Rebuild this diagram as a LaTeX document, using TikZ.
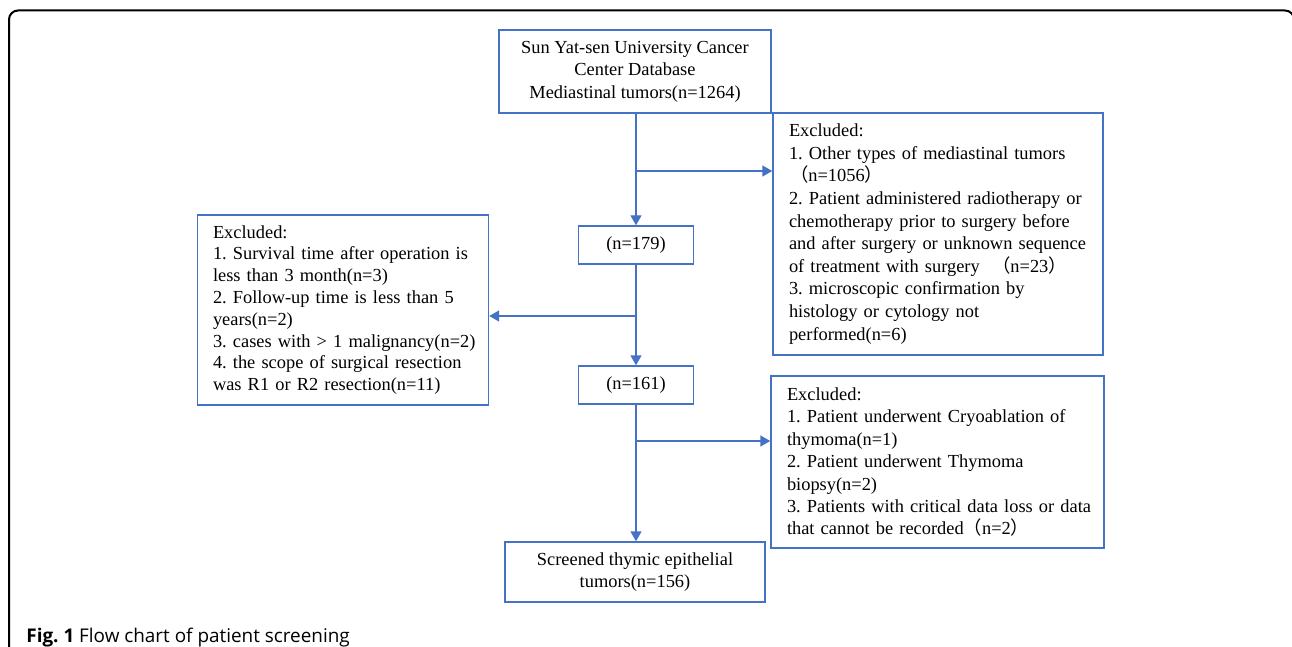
\documentclass[tikz,border=0pt]{standalone}
\usepackage{fontspec}
\setmainfont{Liberation Serif}
\newfontfamily\capfont{Open Sans}
\newfontfamily\cjk{Noto Sans CJK SC}
\usetikzlibrary{arrows.meta}
\definecolor{boxblue}{HTML}{4472C4}
\newcommand{\fwl}{{\cjk （}}
\newcommand{\fwr}{{\cjk ）}}
\newcommand{\boxline}[1]{\mbox{#1}}
\frenchspacing
\begin{document}
\begin{tikzpicture}[x=0.5pt,y=-0.5pt,
  box/.style={draw=boxblue,line width=0.7pt,inner ysep=0pt,font=\fontsize{9.2pt}{11.2pt}\selectfont},
  lbox/.style={box,align=left,inner xsep=7.75pt},
  cbox/.style={box,align=center,inner xsep=2pt},
  conn/.style={draw=boxblue,line width=0.7pt},
  arr/.style={conn,-{Triangle[length=5pt,width=5.5pt]}}]
\useasboundingbox (0,0) rectangle (1292,647);
\begin{scope}
\clip (0,0) rectangle (1292,647);
\draw[line width=1pt,rounded corners=4.5pt] (9,700) -- (9,10.5) -- (1294,10.5) -- (1294,700);
\end{scope}

\node[cbox,minimum width=136pt,minimum height=41.5pt] (top) at (635,71.5)
  {Sun Yat-sen University Cancer\\Center Database\\Mediastinal tumors(n=1264)};
\node[cbox,minimum width=57.5pt,minimum height=19pt] (n179) at (636,245) {(n=179)};
\node[lbox,minimum width=165pt,minimum height=121pt,text width=149pt,
  font=\fontsize{9.2pt}{11.3pt}\selectfont] (right1) at (938,234)
  {\boxline{Excluded:}\\
   \boxline{1. Other types of mediastinal tumors}\\
   \boxline{\hspace*{0.5pt}\fwl n=1056\fwr}\\
   \boxline{2. Patient administered radiotherapy or}\\
   \boxline{chemotherapy prior to surgery before}\\
   \boxline{and after surgery or unknown sequence}\\
   \boxline{of treatment with surgery \ \fwl n=23\fwr}\\
   \boxline{3. microscopic confirmation by}\\
   \boxline{histology or cytology not}\\
   \boxline{performed(n=6)}};
\node[lbox,minimum width=145pt,minimum height=95pt,text width=130pt,
  font=\fontsize{9.2pt}{10.9pt}\selectfont] (left) at (343,310)
  {\boxline{Excluded:}\\
   \boxline{1. Survival time after operation is}\\
   \boxline{less than 3 month(n=3)}\\
   \boxline{2. Follow-up time is less than 5}\\
   \boxline{years(n=2)}\\
   \boxline{3. cases with > 1 malignancy(n=2)}\\
   \boxline{4. the scope of surgical resection}\\
   \boxline{was R1 or R2 resection(n=11)}};
\node[cbox,minimum width=57.5pt,minimum height=19pt] (n161) at (636,385) {(n=161)};
\node[lbox,minimum width=166.5pt,minimum height=86pt,text width=150.5pt,
  font=\fontsize{9.2pt}{11.25pt}\selectfont] (right2) at (937.5,462)
  {\boxline{Excluded:}\\
   \boxline{1. Patient underwent Cryoablation of}\\
   \boxline{thymoma(n=1)}\\
   \boxline{2. Patient underwent Thymoma}\\
   \boxline{biopsy(n=2)}\\
   \boxline{3. Patients with critical data loss or data}\\
   \boxline{that cannot be recorded\fwl n=2\fwr}};
\node[cbox,minimum width=130pt,minimum height=30pt] (bottom) at (635,572)
  {Screened thymic epithelial\\tumors(n=156)};

\coordinate (b1) at (636,171);
\coordinate (b2) at (636,316);
\coordinate (b3) at (636,441);
\draw[arr] (n179.north |- top.south) -- (n179.north);
\draw[arr] (b1) -- (b1 -| right1.west);
\draw[arr] (n179.south) -- (n161.north);
\draw[arr] (b2) -- (b2 -| left.east);
\draw[arr] (n161.south) -- (n161.south |- bottom.north);
\draw[arr] (b3) -- (b3 -| right2.west);

\node[anchor=base west,inner sep=0pt,font=\capfont\fontsize{9.45pt}{11pt}\selectfont] (cap) at (26,642)
  {\textbf{Fig. 1} Flow chart of patient screening};
\end{tikzpicture}
\end{document}
